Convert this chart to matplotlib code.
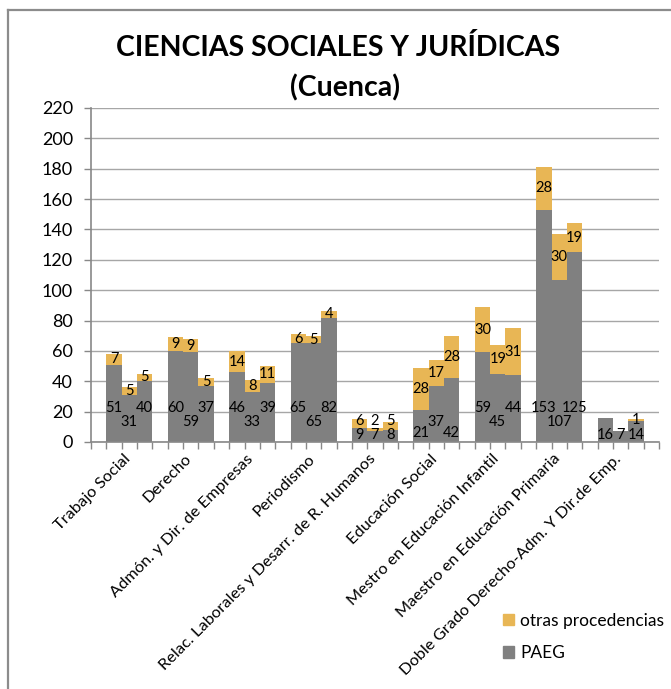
import matplotlib
matplotlib.use("Agg")
import matplotlib.pyplot as plt
from matplotlib.patches import Patch
from matplotlib.lines import Line2D
from matplotlib.transforms import ScaledTranslation
import numpy as np

plt.rcParams['font.family'] = ['Lato', 'DejaVu Sans']

categories = ["Trabajo Social", "Derecho", "Admón. y Dir. de Empresas", "Periodismo",
              "Relac. Laborales y Desarr. de R. Humanos", "Educación Social",
              "Mestro en Educación Infantil", "Maestro en Educación Primaria",
              "Doble Grado Derecho-Adm. Y Dir.de Emp."]
paeg = [[51, 31, 40], [60, 59, 37], [46, 33, 39], [65, 65, 82], [9, 7, 8],
        [21, 37, 42], [59, 45, 44], [153, 107, 125], [16, 7, 14]]
otras = [[7, 5, 5], [9, 9, 5], [14, 8, 11], [6, 5, 4], [6, 2, 5],
         [28, 17, 28], [30, 19, 31], [28, 30, 19], [0, 0, 1]]
yticks = list(range(0, 221, 20))

GRAY = '#808080'
ORANGE = '#E8B655'

fig = plt.figure(figsize=(6.71, 6.89), dpi=100)
ax = fig.add_axes([91/671, 1-442/689, (659-91)/671, (442-108)/689])


def paeg_label_levels(vals):
    # Excel-like staggered placement of the PAEG labels (outer bars higher, middle lower)
    outer = min(vals[0], vals[2])
    middle = vals[1]
    if middle < 20:
        return [4.5, 4.5, 4.5]
    lo = 6 if outer < 30 else 22.5
    return [lo, 13.5, lo]


nslots = 4 * len(categories) + 1
for i, cat in enumerate(categories):
    levels = paeg_label_levels(paeg[i])
    for j in range(3):
        x = 4 * i + 1 + j
        p = paeg[i][j]
        o = otras[i][j]
        ax.bar(x, p, width=1.0, color=GRAY, zorder=2)
        ax.bar(x, o, width=1.0, bottom=p, color=ORANGE, zorder=2)
        if p:
            ax.text(x, levels[j], str(p), ha='center', va='center', fontsize=10.5,
                    color='black', zorder=3)
        if o:
            oy = max(p + o / 2, levels[j] + 9.5)
            ax.text(x, oy, str(o), ha='center', va='center', fontsize=10.5,
                    color='black', zorder=3)

ax.set_xlim(-0.5, nslots - 0.5)
ax.set_ylim(0, 220)
ax.set_yticks(yticks)
ax.set_yticklabels([str(v) for v in yticks], fontsize=13)
ax.yaxis.grid(True, color='#A6A6A6', linewidth=1.0, zorder=0)
ax.set_axisbelow(True)

ax.set_xticks([4 * i + 2 for i in range(len(categories))])
ax.set_xticklabels(categories, rotation=45, ha='right', rotation_mode='anchor', fontsize=11.8)
ax.tick_params(axis='x', which='major', length=0, pad=7)
shift = ScaledTranslation(-6/100, 0, fig.dpi_scale_trans)
for lab in ax.get_xticklabels():
    lab.set_transform(lab.get_transform() + shift)
ax.set_xticks(np.arange(-0.5, nslots, 1.0), minor=True)
ax.tick_params(axis='x', which='minor', length=5, color='#888888', width=1)
ax.tick_params(axis='y', length=5, color='#888888', width=1, pad=8)

for s in ['top', 'right']:
    ax.spines[s].set_visible(False)
for s in ['left', 'bottom']:
    ax.spines[s].set_color('#888888')
    ax.spines[s].set_linewidth(1.2)

fig.text(338/671, 1-48/689, "CIENCIAS SOCIALES Y JURÍDICAS", ha='center', va='center',
         fontsize=20.5, fontweight='bold')
fig.text(345/671, 1-88/689, "(Cuenca)", ha='center', va='center',
         fontsize=20.5, fontweight='bold')

handles = [Patch(color=ORANGE), Patch(color=GRAY)]
fig.legend(handles, ["otras procedencias", "PAEG"], loc='upper left',
           bbox_to_anchor=(487/671, 1-597/689), frameon=False, fontsize=12.5,
           handlelength=0.65, handleheight=0.65, handletextpad=0.35, labelspacing=0.95)

fig.add_artist(Line2D([8/671, 1], [1-10/689, 1-10/689], transform=fig.transFigure,
                      color='#8C8C8C', linewidth=1.6))
fig.add_artist(Line2D([8/671, 8/671], [1-10/689, 0], transform=fig.transFigure,
                      color='#8C8C8C', linewidth=1.6))

fig.savefig("out.png", dpi=100)
